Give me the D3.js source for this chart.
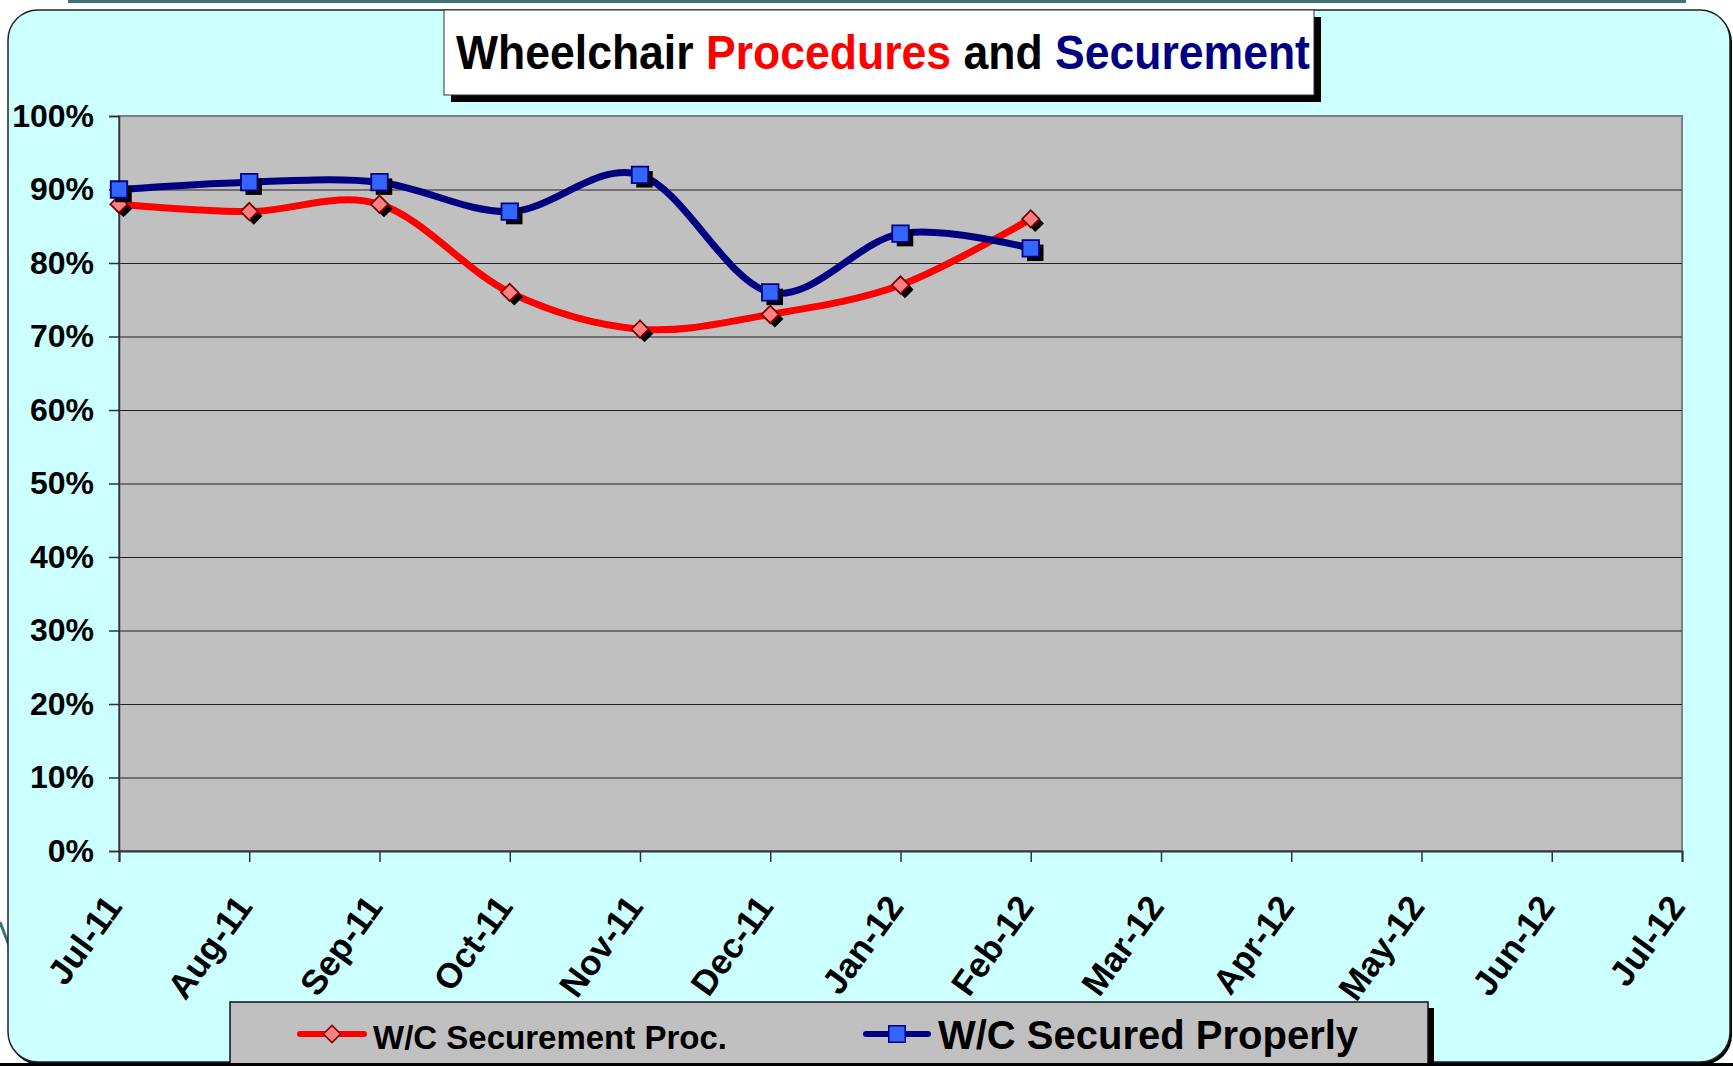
<!DOCTYPE html>
<html>
<head>
<meta charset="utf-8">
<script src="https://cdn.jsdelivr.net/npm/d3@7"></script>
<style>
  html, body { margin: 0; padding: 0; background: #ffffff; }
  svg { display: block; font-family: "Liberation Sans", Arial, sans-serif; }
</style>
</head>
<body>
<svg id="chart" width="1733" height="1066"></svg>
<script>
// Monthly categories on the x axis
const months = ["Jul-11", "Aug-11", "Sep-11", "Oct-11", "Nov-11", "Dec-11", "Jan-12",
                "Feb-12", "Mar-12", "Apr-12", "May-12", "Jun-12", "Jul-12"];
// Percent values per month (only Jul-11 .. Feb-12 reported)
const procValues = [88, 87, 88, 76, 71, 73, 77, 86];
const securedValues = [90, 91, 91, 87, 92, 76, 84, 82];
const yTicks = [0, 10, 20, 30, 40, 50, 60, 70, 80, 90, 100];
const seriesNames = ["W/C Securement Proc.", "W/C Secured Properly"];
const titleParts = [
  { text: "Wheelchair", color: "#000000" },
  { text: "Procedures", color: "#ff0000" },
  { text: "and", color: "#000000" },
  { text: "Securement", color: "#000080" }
];

const svg = d3.select("#chart");
const W = 1733, H = 1066;
const plot = { left: 119, right: 1682, top: 116, bottom: 851 };

// --- frame -------------------------------------------------------------
svg.append("rect").attr("x", 68).attr("y", 0).attr("width", 1618).attr("height", 3)
  .attr("fill", "#3f7373");
svg.append("line").attr("x1", 0).attr("y1", 922).attr("x2", 10).attr("y2", 948)
  .attr("stroke", "#3f7373").attr("stroke-width", 3);

// drop shadow and panel
svg.append("rect").attr("x", 10).attr("y", 12).attr("width", 1722).attr("height", 1053)
  .attr("rx", 30).attr("fill", "#000");
svg.append("rect").attr("x", 8).attr("y", 10).attr("width", 1722).attr("height", 1052)
  .attr("rx", 30).attr("fill", "#ccffff").attr("stroke", "#222").attr("stroke-width", 1.5);

// --- scales ------------------------------------------------------------
const x = d3.scalePoint().domain(months).range([plot.left, plot.right]);
const y = d3.scaleLinear().domain([0, 100]).range([plot.bottom, plot.top]);

// plot area
svg.append("rect").attr("x", plot.left).attr("y", plot.top)
  .attr("width", plot.right - plot.left).attr("height", plot.bottom - plot.top)
  .attr("fill", "#c0c0c0").attr("stroke", "#808080").attr("stroke-width", 2);

// gridlines
svg.append("g")
  .attr("transform", `translate(${plot.left},0)`)
  .call(d3.axisLeft(y).tickValues(yTicks.slice(1, -1)).tickSize(-(plot.right - plot.left)).tickFormat(""))
  .call(g => g.select(".domain").remove())
  .call(g => g.selectAll("line").attr("stroke", "#222").attr("stroke-width", 1.2));

// y axis
svg.append("g")
  .attr("transform", `translate(${plot.left},0)`)
  .call(d3.axisLeft(y).tickValues(yTicks).tickSize(10).tickPadding(15).tickFormat(d => d + "%"))
  .call(g => g.select(".domain").attr("stroke", "#333").attr("stroke-width", 1.5))
  .call(g => g.selectAll("line").attr("stroke", "#333").attr("stroke-width", 1.5))
  .call(g => g.selectAll("text").attr("font-size", 32).attr("font-weight", "bold")
    .attr("fill", "#000").attr("font-family", "Liberation Sans, Arial, sans-serif"));

// x axis
svg.append("g")
  .attr("transform", `translate(0,${plot.bottom})`)
  .call(d3.axisBottom(x).tickSize(11).tickFormat(d => d))
  .call(g => g.select(".domain").attr("stroke", "#333").attr("stroke-width", 2))
  .call(g => g.selectAll("line").attr("stroke", "#333").attr("stroke-width", 1.5))
  .call(g => g.selectAll("text")
    .attr("font-size", 35).attr("font-weight", "bold").attr("fill", "#000")
    .attr("font-family", "Liberation Sans, Arial, sans-serif")
    .attr("text-anchor", "end")
    .attr("y", 0).attr("dy", 0)
    .attr("transform", "translate(4,56) rotate(-54)"));

// --- series ------------------------------------------------------------
const line = d3.line()
  .x((d, i) => x(months[i]))
  .y(d => y(d))
  .curve(d3.curveCardinal.tension(0));

const series = [
  { name: seriesNames[0], values: procValues, line: "#ff0000", fill: "#ff8080", edge: "#800000", shape: "diamond" },
  { name: seriesNames[1], values: securedValues, line: "#000080", fill: "#3366ff", edge: "#000080", shape: "square" }
];

const squarePath = d3.symbol().type(d3.symbolSquare).size(272)();
const diamondPath = d3.symbol().type(d3.symbolSquare).size(150)();

function markerPath(shape) { return shape === "square" ? squarePath : diamondPath; }
function markerRotate(shape) { return shape === "square" ? 0 : 45; }

series.forEach(s => {
  svg.append("path").datum(s.values)
    .attr("d", line).attr("fill", "none")
    .attr("stroke", s.line).attr("stroke-width", 7)
    .attr("stroke-linejoin", "round").attr("stroke-linecap", "round");
});

series.forEach(s => {
  const g = svg.append("g");
  // shadows
  g.selectAll("path.shadow").data(s.values).join("path")
    .attr("class", "shadow")
    .attr("d", markerPath(s.shape))
    .attr("transform", (d, i) => `translate(${x(months[i]) + 4.5},${y(d) + 4.5}) rotate(${markerRotate(s.shape)})`)
    .attr("fill", "#000");
  g.selectAll("path.mark").data(s.values).join("path")
    .attr("class", "mark")
    .attr("d", markerPath(s.shape))
    .attr("transform", (d, i) => `translate(${x(months[i])},${y(d)}) rotate(${markerRotate(s.shape)})`)
    .attr("fill", s.fill).attr("stroke", s.edge).attr("stroke-width", 1.8);
});

// --- title box ---------------------------------------------------------
svg.append("rect").attr("x", 451).attr("y", 17).attr("width", 870).attr("height", 85).attr("fill", "#000");
svg.append("rect").attr("x", 444).attr("y", 10).attr("width", 870).attr("height", 85)
  .attr("fill", "#fff").attr("stroke", "#333").attr("stroke-width", 1);

// title words laid out left to right, then squeezed to the box width
const titleG = svg.append("g");
const titleFs = 49, titleWidth = 854, titleLeft = 456, titleBase = 69;
let cursor = 0;
const spaceW = titleFs * 0.278;
titleParts.forEach((p, i) => {
  const t = titleG.append("text")
    .attr("x", cursor).attr("y", 0)
    .attr("font-size", titleFs).attr("font-weight", "bold")
    .attr("fill", p.color).text(p.text);
  cursor += t.node().getComputedTextLength() + (i < titleParts.length - 1 ? spaceW : 0);
});
const k = titleWidth / cursor;
titleG.attr("transform", `translate(${titleLeft},${titleBase}) scale(${k},1)`);

// --- legend ------------------------------------------------------------
svg.append("rect").attr("x", 236).attr("y", 1008).attr("width", 1198).attr("height", 60).attr("fill", "#000");
svg.append("rect").attr("x", 230).attr("y", 1002).attr("width", 1198).attr("height", 62)
  .attr("fill", "#c0c0c0").attr("stroke", "#111").attr("stroke-width", 1.5);
svg.append("line").attr("x1", 0).attr("x2", W).attr("y1", 1064.5).attr("y2", 1064.5)
  .attr("stroke", "#000").attr("stroke-width", 3);

const legendItems = [
  { s: series[0], x0: 300, x1: 364, tx: 373, fs: 33 },
  { s: series[1], x0: 866, x1: 928, tx: 938, fs: 40 }
];
legendItems.forEach(it => {
  const ly = 1034;
  svg.append("line").attr("x1", it.x0).attr("x2", it.x1).attr("y1", ly).attr("y2", ly)
    .attr("stroke", it.s.line).attr("stroke-width", 6).attr("stroke-linecap", "round");
  svg.append("path").attr("d", markerPath(it.s.shape))
    .attr("transform", `translate(${(it.x0 + it.x1) / 2},${ly}) rotate(${markerRotate(it.s.shape)})`)
    .attr("fill", it.s.fill).attr("stroke", it.s.edge).attr("stroke-width", 1.5);
  svg.append("text").attr("x", it.tx).attr("y", 1049)
    .attr("font-size", it.fs).attr("font-weight", "bold").attr("fill", "#000")
    .text(it.s.name);
});
</script>
</body>
</html>
